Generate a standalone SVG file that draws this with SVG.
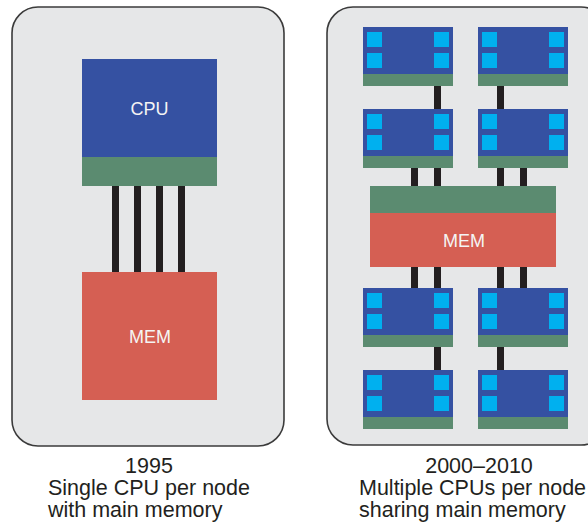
<svg xmlns="http://www.w3.org/2000/svg" width="588" height="527" viewBox="0 0 588 527">
  <defs>
    <style>
      .panel { fill: #e6e7e8; stroke: #3b3b3b; stroke-width: 1.6; }
      .cpu { fill: #3551a2; }
      .bus { fill: #5b8b70; }
      .mem { fill: #d55f53; }
      .core { fill: #00b0ef; }
      .wire { fill: #231f20; }
      .lbl { font-family: "Liberation Sans", Arial, sans-serif; font-size: 18px; fill: #f4f4f4; text-anchor: middle; }
      .cap { font-family: "Liberation Sans", Arial, sans-serif; font-size: 21.5px; fill: #231f20; }
    </style>
    <!-- multicore CPU module: blue die, four cores, green bus strip -->
    <g id="module">
      <rect class="cpu" x="0" y="0" width="90" height="47"/>
      <rect class="bus" x="0" y="47" width="90" height="12"/>
      <rect class="core" x="4" y="5" width="15" height="15"/>
      <rect class="core" x="4" y="26" width="15" height="15"/>
      <rect class="core" x="71" y="5" width="15" height="15"/>
      <rect class="core" x="71" y="26" width="15" height="15"/>
    </g>
  </defs>

  <!-- panel outlines -->
  <rect class="panel" x="12" y="7" width="272" height="439" rx="26" ry="26"/>
  <rect class="panel" x="327" y="7" width="280" height="438" rx="26" ry="26"/>

  <!-- connectors -->
  <g id="connectors">
    <!-- single CPU to memory -->
    <rect class="wire" x="112" y="186" width="7" height="86"/>
    <rect class="wire" x="134" y="186" width="7" height="86"/>
    <rect class="wire" x="156" y="186" width="7" height="86"/>
    <rect class="wire" x="178" y="186" width="7" height="86"/>
    <!-- upper modules -->
    <rect class="wire" x="434" y="86" width="7" height="23"/>
    <rect class="wire" x="497" y="86" width="7" height="23"/>
    <rect class="wire" x="411" y="168" width="7" height="18"/>
    <rect class="wire" x="434" y="168" width="7" height="18"/>
    <rect class="wire" x="497" y="168" width="7" height="18"/>
    <rect class="wire" x="520" y="168" width="7" height="18"/>
    <!-- lower modules -->
    <rect class="wire" x="411" y="267" width="7" height="21"/>
    <rect class="wire" x="434" y="267" width="7" height="21"/>
    <rect class="wire" x="497" y="267" width="7" height="21"/>
    <rect class="wire" x="520" y="267" width="7" height="21"/>
    <rect class="wire" x="434" y="347" width="7" height="23"/>
    <rect class="wire" x="497" y="347" width="7" height="23"/>
  </g>

  <!-- 1995 node -->
  <g id="cpu-single">
    <rect class="cpu" x="82" y="59" width="135" height="98"/>
    <rect class="bus" x="82" y="157" width="135" height="29"/>
    <text class="lbl" x="149.5" y="115">CPU</text>
  </g>
  <g id="mem-single">
    <rect class="mem" x="82" y="272" width="135" height="128"/>
    <text class="lbl" x="150" y="343">MEM</text>
  </g>

  <!-- 2000-2010 node -->
  <g id="cpu-1"><use href="#module" x="363" y="27"/></g>
  <g id="cpu-2"><use href="#module" x="478" y="27"/></g>
  <g id="cpu-3"><use href="#module" x="363" y="109"/></g>
  <g id="cpu-4"><use href="#module" x="478" y="109"/></g>
  <g id="mem-shared">
    <rect class="bus" x="370" y="186" width="186" height="27"/>
    <rect class="mem" x="370" y="213" width="186" height="54"/>
    <text class="lbl" x="464" y="247">MEM</text>
  </g>
  <g id="cpu-5"><use href="#module" x="363" y="288"/></g>
  <g id="cpu-6"><use href="#module" x="478" y="288"/></g>
  <g id="cpu-7"><use href="#module" x="363" y="370"/></g>
  <g id="cpu-8"><use href="#module" x="478" y="370"/></g>

  <!-- captions -->
  <g id="caption-left" class="cap">
    <text x="149" y="473" text-anchor="middle">1995</text>
    <text x="48" y="495">Single CPU per node</text>
    <text x="48" y="517">with main memory</text>
  </g>
  <g id="caption-right" class="cap">
    <text x="479" y="473" text-anchor="middle">2000–2010</text>
    <text x="359" y="495">Multiple CPUs per node</text>
    <text x="359" y="517">sharing main memory</text>
  </g>
</svg>
